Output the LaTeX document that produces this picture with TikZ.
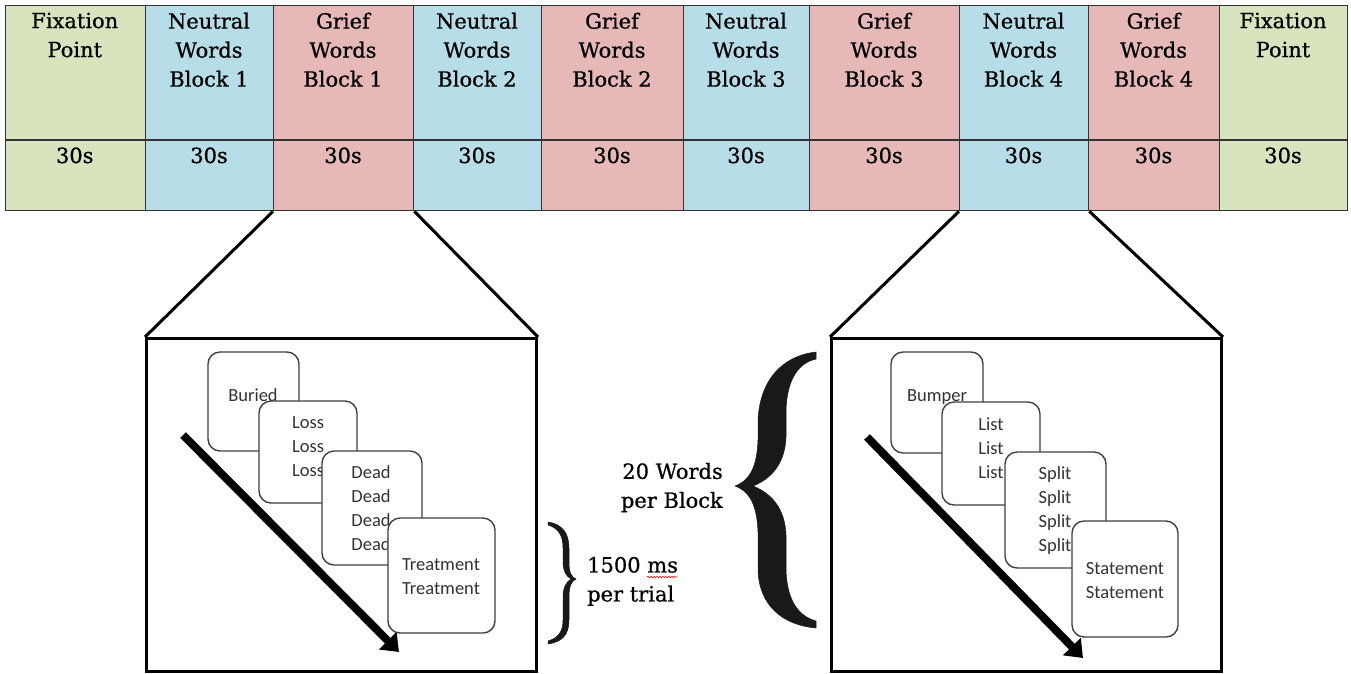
\documentclass[tikz,border=0pt]{standalone}
\usepackage{fontspec}
\setmainfont{DejaVu Serif}
\newfontfamily\labfont{DejaVu Serif}[FakeBold=0.7]
\newfontfamily\cardfont{Carlito}
\usetikzlibrary{arrows.meta,decorations.pathmorphing}
\definecolor{cg}{HTML}{D7E4BD}
\definecolor{cb}{HTML}{B7DEE8}
\definecolor{cp}{HTML}{E6B9B8}
\tikzset{
  cell/.style={draw=black!80, line width=1.3pt, inner sep=0pt, anchor=north west},
  hdr/.style={font=\labfont\fontsize{21}{29}\selectfont, align=center, inner sep=0pt, text=black},
  lbl/.style={font=\labfont\fontsize{21}{29}\selectfont, inner sep=0pt, text=black},
  bigbox/.style={draw=black, line width=3pt, inner sep=0pt, anchor=north west},
  conn/.style={draw=black, line width=3pt},
  card/.style={draw=black!75, line width=1.4pt, fill=white, rounded corners=12pt, inner sep=0pt},
  cardtxt/.style={font=\cardfont\fontsize{18.5}{24}\selectfont, align=center, inner sep=0pt, text=black!80},
  bigarrow/.style={line width=8pt, -{Triangle[length=16pt,width=24pt]}},
  bracefill/.style={fill=black!90, draw=black!90, line width=0.5pt}
}
\begin{document}
\begin{tikzpicture}[x=1pt,y=-1pt]
\useasboundingbox[fill=white] (0,0) rectangle (1351,673);
% ---- table ----
\foreach \i/\xa/\xb/\col/\lab in {
  1/4.5/145/cg/{Fixation\\Point},
  2/145/273/cb/{Neutral\\Words\\Block 1},
  3/273/413/cp/{Grief\\Words\\Block 1},
  4/413/541/cb/{Neutral\\Words\\Block 2},
  5/541/683/cp/{Grief\\Words\\Block 2},
  6/683/809/cb/{Neutral\\Words\\Block 3},
  7/809/959/cp/{Grief\\Words\\Block 3},
  8/959/1088/cb/{Neutral\\Words\\Block 4},
  9/1088/1219/cp/{Grief\\Words\\Block 4},
  10/1219/1347/cg/{Fixation\\Point}}{
  \pgfmathsetmacro\w{\xb-\xa}
  \pgfmathsetmacro\cx{(\xa+\xb)/2}
  \node[cell, fill=\col, minimum width=\w pt, minimum height=134.6pt] (h\i) at (\xa,4.7) {};
  \node[cell, fill=\col, minimum width=\w pt, minimum height=70.7pt] (d\i) at (\xa,139.3) {};
  \node[hdr, anchor=north] (ht\i) at (\cx,12.5) {\lab};
  \node[lbl, anchor=base] (dt\i) at (\cx,163) {30s};
}
% ---- zoom boxes ----
\node[bigbox, minimum width=390pt, minimum height=333pt] (box1) at (145,337) {};
\node[bigbox, minimum width=390pt, minimum height=333pt] (box2) at (830,337) {};
\draw[conn] (d3.south west) -- (box1.north west);
\draw[conn] (d3.south east) -- (box1.north east);
\draw[conn] (d8.south west) -- (box2.north west);
\draw[conn] (d8.south east) -- (box2.north east);
% ---- arrows ----
\coordinate (a1s) at (183,435);
\coordinate (a1e) at (399,652);
\coordinate (a2s) at (867,437);
\coordinate (a2e) at (1083,658);
\draw[bigarrow] (a1s) -- (a1e);
\draw[bigarrow] (a2s) -- (a2e);
% ---- left cards ----
\node[card, minimum width=91pt, minimum height=99pt] (l1) at (253.5,401.5) {};
\node[cardtxt] (lt1) at (253,395) {Buried};
\node[card, minimum width=98pt, minimum height=102pt] (l2) at (308,452) {};
\node[cardtxt] (lt2) at (308,447) {Loss\\Loss\\Loss};
\node[card, minimum width=100pt, minimum height=114pt] (l3) at (372,508) {};
\node[cardtxt] (lt3) at (371,508.5) {Dead\\Dead\\Dead\\Dead};
\node[card, minimum width=107pt, minimum height=115pt] (l4) at (441.5,575.5) {};
\node[cardtxt] (lt4) at (441,576.5) {Treatment\\Treatment};
% ---- right cards ----
\node[card, minimum width=92pt, minimum height=101pt] (r1) at (937,402.5) {};
\node[cardtxt] (rt1) at (937,397) {Bumper};
\node[card, minimum width=98pt, minimum height=103pt] (r2) at (991,453.5) {};
\node[cardtxt] (rt2) at (991,448) {List\\List\\List};
\node[card, minimum width=101pt, minimum height=116pt] (r3) at (1055.5,510) {};
\node[cardtxt] (rt3) at (1055,510.5) {Split\\Split\\Split\\Split};
\node[card, minimum width=106pt, minimum height=116pt] (r4) at (1125,579) {};
\node[cardtxt] (rt4) at (1125,581) {Statement\\Statement};
% ---- small brace ----
\path[bracefill] (548,522) .. controls (562,524) and (569,533) .. (569,548) -- (569,562)
  .. controls (569,572) and (571,577) .. (576,579)
  .. controls (571,581) and (569,587) .. (569,597) -- (569,620)
  .. controls (569,635) and (562,642) .. (548,644)
  -- (548,641) .. controls (558,638) and (563,632) .. (563,620) -- (563,597)
  .. controls (563,588) and (566,582) .. (571,579)
  .. controls (566,576) and (563,571) .. (563,562) -- (563,548)
  .. controls (563,535) and (558,528) .. (548,525) -- cycle;
\node[lbl, align=left, anchor=north west] (t1500) at (587,556.7) {1500 ms\\per trial};
\draw[red, line width=0.6pt, decorate, decoration={snake, amplitude=0.8pt, segment length=3pt}] (647,577) -- (677,577);
% ---- big brace ----
\path[bracefill] (816,352) .. controls (782,356) and (760,380) .. (758,420) -- (758,440)
  .. controls (757,465) and (751,480) .. (735,486)
  .. controls (751,492) and (757,507) .. (758,532) -- (758,570)
  .. controls (759,605) and (782,625) .. (816,628)
  -- (816,621) .. controls (798,616) and (787,600) .. (786,570) -- (786,535)
  .. controls (785,510) and (773,494) .. (753,486)
  .. controls (773,478) and (785,462) .. (786,437) -- (786,410)
  .. controls (787,380) and (798,363) .. (816,359) -- cycle;
\node[lbl, align=right, anchor=north east] (t20) at (723,462.7) {20 Words\\per Block};
\end{tikzpicture}
\end{document}
